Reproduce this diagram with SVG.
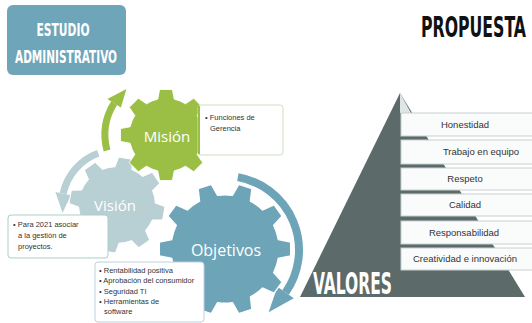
<svg xmlns="http://www.w3.org/2000/svg" width="532" height="323" viewBox="0 0 532 323">
<style>
.cond{font-family:"DejaVu Sans Condensed","DejaVu Sans",sans-serif;font-weight:bold;font-stretch:condensed}
.glab{font-family:"Open Sans","Noto Sans",sans-serif;fill:#fff}
.note{font-family:"Liberation Sans","Arial",sans-serif;font-size:7.5px;fill:#333}
.val{font-family:"Liberation Sans","Arial",sans-serif;font-size:9.5px;fill:#333;text-anchor:middle}
.vbox{fill:#fafbfb;stroke:#c7d0d0;stroke-width:1}
.gear{stroke:#fff;stroke-width:2}
</style>
<defs>
<path id="g8" d="M77.95,-18 L99.03,-13.92 L99.03,13.92 L77.95,18 A80,80 0 0 1 67.84,42.39 L79.86,60.18 L60.18,79.86 L42.39,67.84 A80,80 0 0 1 18,77.95 L13.92,99.03 L-13.92,99.03 L-18,77.95 A80,80 0 0 1 -42.39,67.84 L-60.18,79.86 L-79.86,60.18 L-67.84,42.39 A80,80 0 0 1 -77.95,18 L-99.03,13.92 L-99.03,-13.92 L-77.95,-18 A80,80 0 0 1 -67.84,-42.39 L-79.86,-60.18 L-60.18,-79.86 L-42.39,-67.84 A80,80 0 0 1 -18,-77.95 L-13.92,-99.03 L13.92,-99.03 L18,-77.95 A80,80 0 0 1 42.39,-67.84 L60.18,-79.86 L79.86,-60.18 L67.84,-42.39 A80,80 0 0 1 77.95,-18 Z"/>
<path id="g10" d="M80.75,-14.24 L99.45,-10.45 L99.45,10.45 L80.75,14.24 A82,82 0 0 1 73.7,35.95 L86.6,50 L74.31,66.91 L56.97,58.98 A82,82 0 0 1 38.5,72.4 L40.67,91.35 L20.79,97.81 L11.41,81.2 A82,82 0 0 1 -11.41,81.2 L-20.79,97.81 L-40.67,91.35 L-38.5,72.4 A82,82 0 0 1 -56.97,58.98 L-74.31,66.91 L-86.6,50 L-73.7,35.95 A82,82 0 0 1 -80.75,14.24 L-99.45,10.45 L-99.45,-10.45 L-80.75,-14.24 A82,82 0 0 1 -73.7,-35.95 L-86.6,-50 L-74.31,-66.91 L-56.97,-58.98 A82,82 0 0 1 -38.5,-72.4 L-40.67,-91.35 L-20.79,-97.81 L-11.41,-81.2 A82,82 0 0 1 11.41,-81.2 L20.79,-97.81 L40.67,-91.35 L38.5,-72.4 A82,82 0 0 1 56.97,-58.98 L74.31,-66.91 L86.6,-50 L73.7,-35.95 A82,82 0 0 1 80.75,-14.24 Z"/>
</defs>
<rect width="532" height="323" fill="#fff"/>

<g id="title">
<rect x="7" y="5" width="119" height="70" rx="6" fill="#6fa5b8"/>
<text class="cond" x="63" y="36" font-size="18" fill="#fff" text-anchor="middle" textLength="53" lengthAdjust="spacingAndGlyphs">ESTUDIO</text>
<text class="cond" x="66" y="63" font-size="18" fill="#fff" text-anchor="middle" textLength="102" lengthAdjust="spacingAndGlyphs">ADMINISTRATIVO</text>
</g>

<g id="propuesta">
<text class="cond" transform="translate(421,37) scale(0.58,1)" x="0" y="0" font-size="28" fill="#111" textLength="181" lengthAdjust="spacingAndGlyphs">PROPUESTA</text>
</g>

<g id="connectors">
<path d="M107.04,150.53 A60,60 0 0 1 114.12,103.21" fill="none" stroke="#9bbf45" stroke-width="7"/>
<polygon points="120.9,107.45 107.34,98.97 126.43,89.04" fill="#9bbf45"/>
<path d="M98.19,153.32 A55,55 0 0 0 63.2,193.56" fill="none" stroke="#b8cfd4" stroke-width="7"/>
<polygon points="71.03,195.23 55.38,191.9 62.53,212.66" fill="#b8cfd4"/>
<path d="M237.85,177.12 A74,74 0 0 1 285.62,292.45" fill="none" stroke="#6ea4b8" stroke-width="8"/>
<polygon points="277.43,286.71 293.81,298.18 268.6,312.3" fill="#6ea4b8"/>
</g>

<g id="vision">
<use href="#g8" class="gear" fill="#b8cfd4" transform="translate(117,205) scale(0.48) rotate(10)"/>
<text class="glab" x="115" y="211" font-size="15" text-anchor="middle">Visión</text>
</g>

<g id="mision">
<use href="#g8" class="gear" fill="#9bbf45" transform="translate(166,135) scale(0.46)"/>
<text class="glab" x="167" y="142" font-size="15" text-anchor="middle">Misión</text>
</g>

<g id="objetivos">
<use href="#g10" class="gear" fill="#6ea4b8" transform="translate(225,249) scale(0.66)"/>
<text class="glab" x="226" y="256" font-size="16" text-anchor="middle">Objetivos</text>
</g>

<g id="mision-note">
<rect x="198" y="105" width="85" height="50" rx="3" fill="#fff" stroke="#cfe0bd"/>
<rect x="198" y="106" width="2" height="48" fill="#9bbf45"/>
<text class="note" x="205" y="120">• Funciones de</text>
<text class="note" x="210" y="131">Gerencia</text>
</g>

<g id="vision-note">
<rect x="8" y="215" width="100" height="43" rx="3" fill="#fff" stroke="#a9cfc3"/>
<text class="note" x="13" y="227">• Para 2021 asociar</text>
<text class="note" x="18" y="238">a la gestión de</text>
<text class="note" x="18" y="249">proyectos.</text>
</g>

<g id="objetivos-note">
<rect x="95" y="262" width="109" height="60" rx="3" fill="#fff" stroke="#bcd0e0"/>
<text class="note" x="99" y="273" font-size="7">• Rentabilidad positiva</text>
<text class="note" x="99" y="283" font-size="7">• Aprobación del consumidor</text>
<text class="note" x="99" y="294" font-size="7">• Seguridad TI</text>
<text class="note" x="99" y="304" font-size="7">• Herramientas de</text>
<text class="note" x="104" y="314" font-size="7">software</text>
</g>

<g id="valores">
<polygon points="400,93 300,297 525,297" fill="#5d6a6a"/>
<polygon points="400,93 400,113 411,113" fill="#dfe5e5"/>
<rect class="vbox" x="401" y="113" width="135" height="23"/>
<text class="val" x="465" y="128">Honestidad</text>
<rect class="vbox" x="401" y="140" width="135" height="24"/>
<text class="val" x="481" y="155">Trabajo en equipo</text>
<rect class="vbox" x="401" y="168" width="135" height="22"/>
<text class="val" x="465" y="182">Respeto</text>
<rect class="vbox" x="401" y="194" width="135" height="22"/>
<text class="val" x="465" y="208">Calidad</text>
<rect class="vbox" x="401" y="221" width="135" height="23"/>
<text class="val" x="464" y="236">Responsabilidad</text>
<rect class="vbox" x="401" y="248" width="135" height="22"/>
<text class="val" x="465" y="262">Creatividad e innovación</text>
<text class="cond" x="313" y="294" font-size="30" fill="#fff" textLength="79" lengthAdjust="spacingAndGlyphs">VALORES</text>
</g>
</svg>
